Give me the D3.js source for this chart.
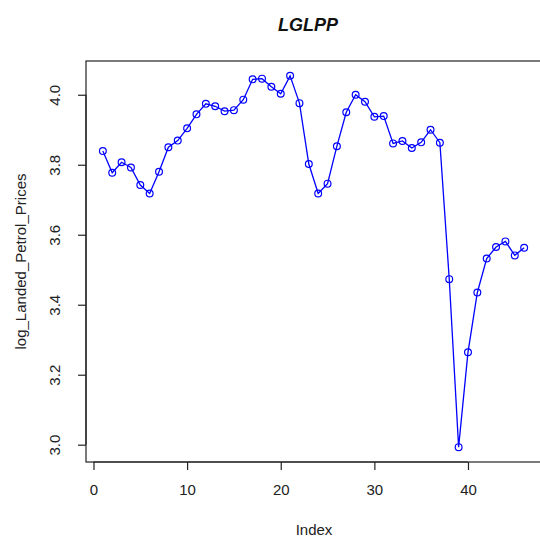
<!DOCTYPE html>
<html>
<head>
<meta charset="utf-8">
<script src="https://cdn.jsdelivr.net/npm/d3@7"></script>
<style>
  body { margin: 0; background: #fff; }
  svg { display: block; font-family: "Liberation Sans", Arial, sans-serif; }
</style>
</head>
<body>
<div id="chart"></div>
<script>
// values, index 1..46
const idx = d3.range(1, 47);
const logPrices = [
  3.839, 3.777, 3.807, 3.792, 3.742, 3.718, 3.780, 3.850, 3.869, 3.904,
  3.944, 3.974, 3.967, 3.953, 3.956, 3.986, 4.044, 4.046, 4.023, 4.003,
  4.054, 3.976, 3.802, 3.718, 3.746, 3.853, 3.950, 4.000, 3.980, 3.937,
  3.939, 3.861, 3.868, 3.848, 3.864, 3.900, 3.863, 3.473, 2.993, 3.264,
  3.435, 3.532, 3.565, 3.581, 3.541, 3.563
];
const xTicks = [0, 10, 20, 30, 40];
const yTicks = [3.0, 3.2, 3.4, 3.6, 3.8, 4.0];

const W = 540, H = 539;
// plot box, R style (right edge runs just past the window)
const box = { left: 86, right: 541, top: 61, bottom: 462 };

const svg = d3.select("#chart").append("svg").attr("width", W).attr("height", H);

// R pads the data range by 4% on each side
const xr = d3.extent(idx), yr = d3.extent(logPrices);
const xp = (xr[1] - xr[0]) * 0.04, yp = (yr[1] - yr[0]) * 0.04;
const x = d3.scaleLinear().domain([xr[0] - xp, xr[1] + xp]).range([box.left, box.right]);
const y = d3.scaleLinear().domain([yr[0] - yp, yr[1] + yp]).range([box.bottom, box.top]);

// frame
svg.append("rect")
  .attr("x", box.left).attr("y", box.top)
  .attr("width", box.right - box.left).attr("height", box.bottom - box.top)
  .attr("fill", "none").attr("stroke", "#222").attr("stroke-width", 1.2);

// axes (only tick range gets the axis line, like base R)
const ax = svg.append("g").attr("transform", `translate(0,${box.bottom})`)
  .call(d3.axisBottom(x).tickValues(xTicks).tickSize(8).tickPadding(14).tickFormat(d3.format("d")));
ax.select(".domain").attr("d", `M${x(0)},0H${x(40)}`);

const ay = svg.append("g").attr("transform", `translate(${box.left},0)`)
  .call(d3.axisLeft(y).tickValues(yTicks).tickSize(8).tickFormat(d3.format(".1f")));
ay.select(".domain").attr("d", `M0,${y(3.0)}V${y(4.0)}`);

[ax, ay].forEach(a => {
  a.selectAll("path, line").attr("stroke", "#222").attr("stroke-width", 1.2);
  a.selectAll("text").attr("fill", "#222").style("font-size", "15px")
    .style("font-family", "'Liberation Sans', Arial, sans-serif");
});
ax.selectAll("text").attr("dy", "0.71em");
// y labels are turned like R's las=0
ay.selectAll(".tick text")
  .attr("x", null).attr("dy", null)
  .attr("text-anchor", "middle")
  .attr("transform", "translate(-26,0) rotate(-90)");

// the series
svg.append("path")
  .datum(logPrices)
  .attr("fill", "none").attr("stroke", "#0000ff").attr("stroke-width", 1.3)
  .attr("d", d3.line().x((d, i) => x(idx[i])).y(d => y(d)));

svg.selectAll("circle.pt").data(logPrices).enter().append("circle")
  .attr("class", "pt")
  .attr("cx", (d, i) => x(idx[i])).attr("cy", d => y(d)).attr("r", 3.4)
  .attr("fill", "none").attr("stroke", "#0000ff").attr("stroke-width", 1.2);

// titles
svg.append("text").attr("x", 308).attr("y", 31).attr("text-anchor", "middle")
  .style("font-size", "18px").style("font-weight", "bold").style("font-style", "italic")
  .attr("fill", "#111").text("LGLPP");

svg.append("text").attr("x", 314).attr("y", 535).attr("text-anchor", "middle")
  .style("font-size", "15px").attr("fill", "#222").text("Index");

svg.append("text")
  .attr("transform", `translate(26,${(box.top + box.bottom) / 2}) rotate(-90)`)
  .attr("text-anchor", "middle")
  .style("font-size", "15px").attr("fill", "#222").text("log_Landed_Petrol_Prices");
</script>
</body>
</html>
